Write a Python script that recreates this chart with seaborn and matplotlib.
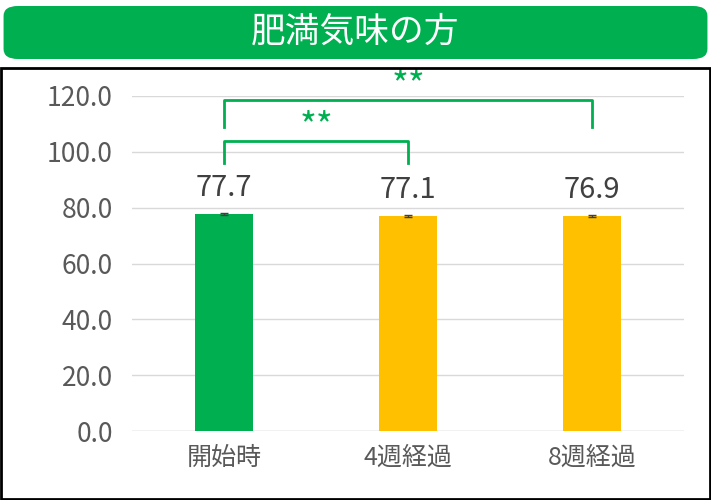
import matplotlib.pyplot as plt
import seaborn as sns
import pandas as pd
from matplotlib.patches import FancyBboxPatch, Rectangle

plt.rcParams['font.family'] = 'Noto Sans CJK JP'

categories = ['開始時', '4週経過', '8週経過']
values = [77.7, 77.1, 76.9]
errors = [0.4, 0.4, 0.4]
bar_colors = ['#00b050', '#ffc000', '#ffc000']
title = '肥満気味の方'

df = pd.DataFrame({'cat': categories, 'val': values})

fig = plt.figure(figsize=(7.11, 5.0), dpi=100)
# banner
fig.patches.append(FancyBboxPatch((0.005, 0.882), 0.99, 0.106, boxstyle='round,pad=0,rounding_size=0.02',
                                  transform=fig.transFigure, facecolor='#00b050', edgecolor='none'))
fig.text(0.5, 0.935, title, color='white', fontsize=25, ha='center', va='center')
# frame
fig.patches.append(Rectangle((0.002, 0.002), 0.996, 0.862, transform=fig.transFigure,
                             facecolor='none', edgecolor='black', linewidth=2))

ax = fig.add_axes([0.186, 0.138, 0.776, 0.67])
sns.barplot(data=df, x='cat', y='val', hue='cat', palette=bar_colors, width=0.315,
            saturation=1, legend=False, ax=ax, zorder=3)
ax.errorbar(range(3), values, yerr=errors, fmt='none', ecolor='#404040', capsize=3, lw=1, zorder=4)
for i, v in enumerate(values):
    ax.text(i, v + 4, f'{v:.1f}', ha='center', va='bottom', fontsize=21, color='#404040')

ax.set_ylim(0, 120)
ax.set_xlim(-0.5, 2.5)
ax.set_yticks(range(0, 121, 20))
ax.set_yticklabels([f'{t:.1f}' for t in range(0, 121, 20)])
ax.tick_params(axis='y', labelsize=19, colors='#595959', length=0, pad=14)
ax.tick_params(axis='x', labelsize=18, colors='#595959', length=0, pad=10)
ax.set_xlabel('')
ax.set_ylabel('')
ax.grid(axis='y', color='#d9d9d9', lw=1, zorder=0)
for s in ax.spines.values():
    s.set_visible(False)
ax.axhline(0, color='#d9d9d9', lw=1)

green = '#00b050'
def bracket(x0, x1, y, yt, label):
    ax.plot([x0, x0, x1, x1], [yt, y, y, yt], color=green, lw=2, clip_on=False, zorder=5)
    ax.text((x0 + x1) / 2, y - 1.5, label, color=green, fontsize=26, ha='center', va='bottom')

bracket(0, 1, 104, 96, '**')
bracket(0, 2, 118.5, 109, '**')

fig.savefig('out.png', dpi=100)
